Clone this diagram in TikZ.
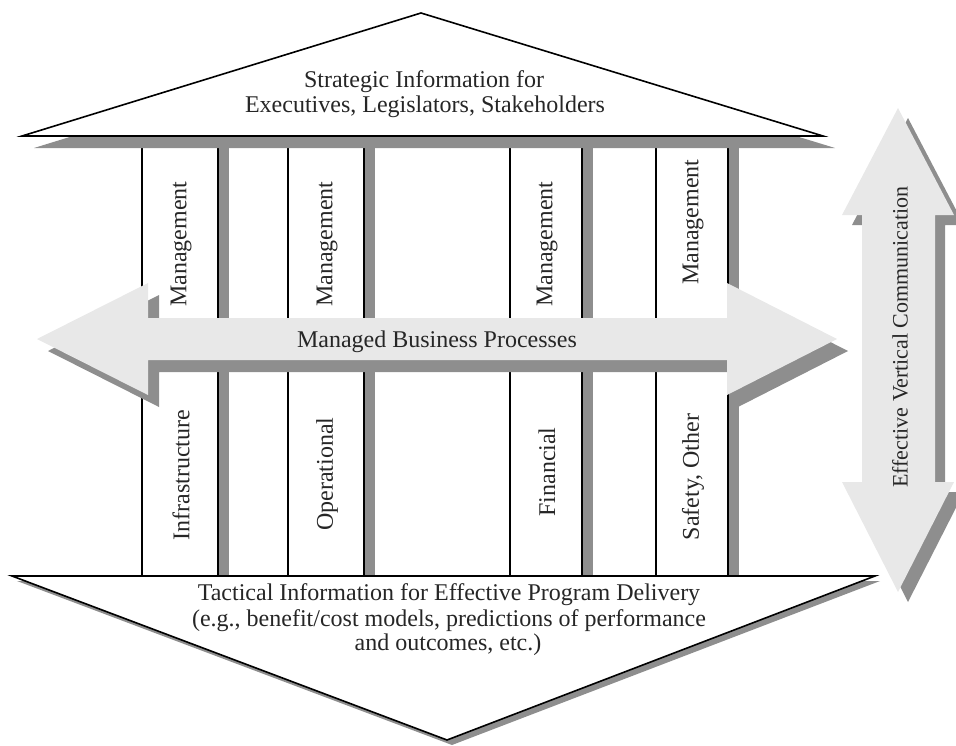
\documentclass[tikz,border=0pt]{standalone}
\usepackage{fontspec}
\setmainfont{Liberation Serif}
\definecolor{arrowfill}{HTML}{E8E8E8}
\definecolor{shadowgray}{HTML}{8E8E8E}
\definecolor{textink}{HTML}{262626}
\begin{document}
\begin{tikzpicture}[x=1pt,y=-1pt,
  outline/.style={draw=black,line width=1.6pt,line join=miter,fill=white},
  shadowfill/.style={fill=shadowgray},
  arrowbody/.style={fill=arrowfill},
  lbl/.style={inner sep=0pt,text=textink,font=\fontsize{24}{25}\selectfont},
  vlbl/.style={lbl,rotate=90,anchor=center}]
\useasboundingbox (0,0) rectangle (956,745);

% pillars: thin left edge, heavy right edge with a grey shadow strip
\foreach \l/\r in {142/218,288/364,510/582,656/728}{
  \fill[shadowfill] (\r,148) rectangle (\r+11,576);
  \draw[line width=1.6pt] (\l,136) -- (\l,576);
  \draw[line width=2.6pt] (\r,136) -- (\r,576);
}

% roof
\fill[shadowfill,shift={(12,12)}] (22,136) -- (421,13) -- (823,136) -- cycle;
\draw[outline] (22,136) -- (421,13) -- (823,136) -- cycle;

% base
\fill[shadowfill,shift={(5,5)}] (12,576) -- (875,576) -- (447,740) -- cycle;
\draw[outline] (12,576) -- (875,576) -- (447,740) -- cycle;

% horizontal double arrow
\fill[shadowfill,shift={(11,12)}] (37,339) -- (148,283) -- (148,318) -- (727,318) -- (727,283)
  -- (837,339) -- (727,395) -- (727,360) -- (148,360) -- (148,395) -- cycle;
\fill[arrowbody] (37,339) -- (148,283) -- (148,318) -- (727,318) -- (727,283)
  -- (837,339) -- (727,395) -- (727,360) -- (148,360) -- (148,395) -- cycle;

% vertical double arrow
\fill[shadowfill,shift={(10,10)}] (898,108) -- (954,215) -- (935,215) -- (935,482) -- (954,482)
  -- (898,592) -- (842,482) -- (862,482) -- (862,215) -- (842,215) -- cycle;
\fill[arrowbody] (898,108) -- (954,215) -- (935,215) -- (935,482) -- (954,482)
  -- (898,592) -- (842,482) -- (862,482) -- (862,215) -- (842,215) -- cycle;

% texts
\node[lbl,anchor=base] (roofA) at (424,87) {Strategic Information for};
\node[lbl,anchor=base] (roofB) at (425,112) {Executives, Legislators, Stakeholders};

\node[lbl,anchor=base] (proc) at (437,347) {Managed Business Processes};

\node[lbl,anchor=base] (baseA) at (449,600) {Tactical Information for Effective Program Delivery};
\node[lbl,anchor=base] (baseB) at (449,626) {(e.g., benefit/cost models, predictions of performance};
\node[lbl,anchor=base] (baseC) at (448,650) {and outcomes, etc.)};

\node[vlbl] (mgA) at (181,244) {Management};
\node[vlbl] (mgB) at (327,244) {Management};
\node[vlbl] (mgC) at (547,244) {Management};
\node[vlbl] (mgD) at (693,222) {Management};

\node[vlbl] (infra) at (181,475) {Infrastructure};
\node[vlbl] (oper) at (327,474) {Operational};
\node[vlbl] (fin) at (547,472) {Financial};
\node[vlbl] (safe) at (693,477) {Safety, Other};

\node[vlbl,font=\fontsize{22}{24}\selectfont] (comm) at (900,337) {Effective Vertical Communication};
\end{tikzpicture}
\end{document}
